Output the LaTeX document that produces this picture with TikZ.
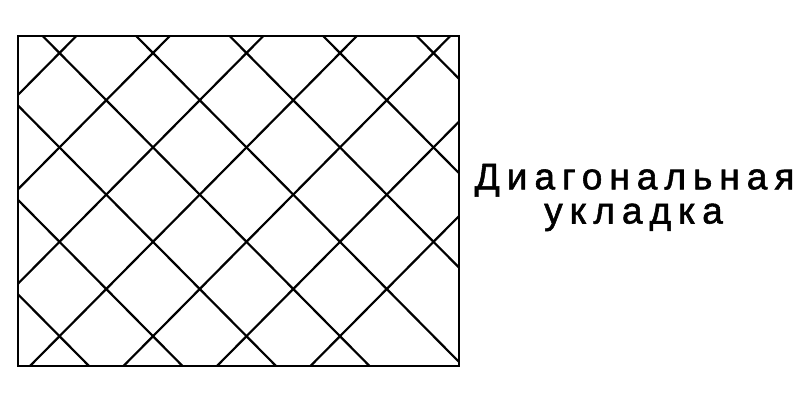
\documentclass[tikz,border=0pt]{standalone}
\usepackage{fontspec}
\setmainfont{Liberation Sans}
\newfontfamily\trackedfont[LetterSpace=19,FakeBold=1.5]{Liberation Sans}
\tikzset{
  tileline/.style={line width=2.2pt, black},
  caption/.style={font=\trackedfont\fontsize{37}{38}\selectfont, inner sep=0pt, anchor=base west}
}
\begin{document}
\begin{tikzpicture}[x=1pt,y=-1pt]
\useasboundingbox[fill=white] (0,0) rectangle (800,400);
\begin{scope}
  \clip (18,36) rectangle (459,366);
  \foreach \k in {-6,...,6}{
    \draw[tileline] ({59.5+93.5*\k-400},{53-1.0096*400}) -- ({59.5+93.5*\k+400},{53+1.0096*400});
    \draw[tileline] ({59.5+93.5*\k-400},{53+1.0096*400}) -- ({59.5+93.5*\k+400},{53-1.0096*400});
  }
\end{scope}
\draw[tileline] (18,36) rectangle (459,366);
\node[caption] (line1) at (474.5,189.3) {Диагональная};
\node[caption] (line2) at (544,223.5) {укладка};
\end{tikzpicture}
\end{document}
